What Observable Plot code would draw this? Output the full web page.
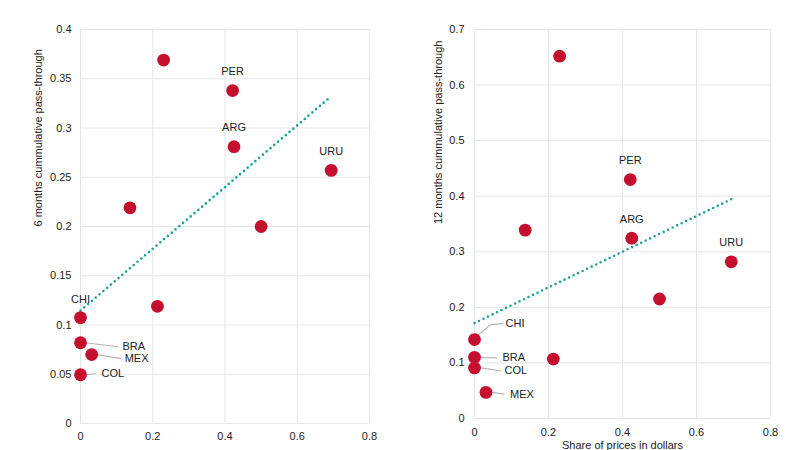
<!DOCTYPE html>
<html>
<head>
<meta charset="utf-8">
<script src="https://cdn.jsdelivr.net/npm/d3@7"></script>
<script src="https://cdn.jsdelivr.net/npm/@observablehq/plot@0.6"></script>
<style>
  html, body { margin: 0; padding: 0; background: #fff; }
  #wrap { position: relative; width: 800px; height: 450px; overflow: hidden; background: #fff; }
  #left, #right { position: absolute; top: 0; }
  #left { left: 0; }
  #right { left: 400px; }
</style>
</head>
<body>
<div id="wrap"><div id="left"></div><div id="right"></div></div>
<script>
// ---- data ----
const countries = ["", "PER", "ARG", "URU", "", "", "", "CHI", "BRA", "MEX", "COL"];
const shareDollar = [0.23, 0.421, 0.425, 0.694, 0.137, 0.50, 0.213, 0, 0, 0.031, 0];
const passThrough6m = [0.369, 0.338, 0.281, 0.257, 0.219, 0.200, 0.119, 0.1075, 0.082, 0.070, 0.0495];
const passThrough12m = [0.652, 0.430, 0.3245, 0.282, 0.339, 0.215, 0.107, 0.142, 0.110, 0.047, 0.091];

const xTicks = [0, 0.2, 0.4, 0.6, 0.8];
const yTicks6 = [0, 0.05, 0.1, 0.15, 0.2, 0.25, 0.3, 0.35, 0.4];
const yTicks12 = [0, 0.1, 0.2, 0.3, 0.4, 0.5, 0.6, 0.7];

const yTitle6 = "6 months cummulative pass-through";
const yTitle12 = "12 months cummulative pass-through";
const xTitle = "Share of prices in dollars";

// ---- annotation layout (pixel offsets from each point) ----
const aboveLabels = ["PER", "ARG", "URU"];
const leftNotes = [
  {name: "CHI", tx: 0, ty: -18, anchor: "middle", leader: null},
  {name: "BRA", tx: 42, ty: 4, anchor: "start", leader: [[5, 0], [37, 4]]},
  {name: "MEX", tx: 33, ty: 4, anchor: "start", leader: [[6, 0], [29, 4]]},
  {name: "COL", tx: 21, ty: -1, anchor: "start", leader: [[6, 0], [15, -1]]}
];
const rightNotes = [
  {name: "CHI", tx: 31, ty: -16, anchor: "start", leader: [[3, -4], [16, -15], [28, -16]]},
  {name: "BRA", tx: 28, ty: 0.5, anchor: "start", leader: [[6, 0], [22, 0.5]]},
  {name: "COL", tx: 30, ty: 2.5, anchor: "start", leader: [[6, 0], [26, 2.8]]},
  {name: "MEX", tx: 24, ty: 2.3, anchor: "start", leader: [[6, 0], [18, 1.7]]}
];

const RED = "#c4102e";
const TEAL = "#1ea394";
const GRID = "#e6e6e6";
const TEXT = "#222";

function makePanel(values, yMax, yTicks, yTitle, notes, m, tickPadX, tickPadY, showXTitle) {
  const W = 400, H = 450;
  const plotW = W - m.left - m.right, plotH = H - m.top - m.bottom;
  const kx = 0.8 / plotW, ky = yMax / plotH;
  const data = countries.map((c, i) => ({name: c, share: shareDollar[i], value: values[i]}));
  const byName = n => data.filter(d => d.name === n);

  const leaderRows = [];
  notes.forEach(n => {
    if (!n.leader) return;
    const d = byName(n.name)[0];
    n.leader.forEach(([px, py]) => leaderRows.push({name: n.name, x: d.share + px * kx, y: d.value - py * ky}));
  });

  const marks = [
    Plot.ruleY(yTicks, {stroke: GRID, strokeWidth: 1}),
    Plot.ruleX(xTicks, {stroke: GRID, strokeWidth: 1}),
    Plot.linearRegressionY(data, {x: "share", y: "value", ci: 0, stroke: TEAL, strokeWidth: 2.6,
      strokeDasharray: "0 5", strokeLinecap: "round"}),
    Plot.line(leaderRows, {x: "x", y: "y", z: "name", stroke: "#b5b5b5", strokeWidth: 1.2, curve: "linear"}),
    Plot.dot(data, {x: "share", y: "value", r: 6.4, fill: RED, stroke: "none"}),
    Plot.text(data.filter(d => aboveLabels.includes(d.name)), {x: "share", y: "value", text: "name", dy: -19,
      fill: TEXT, fontSize: 11}),
    ...notes.map(n => Plot.text(byName(n.name), {x: "share", y: "value", text: "name", dx: n.tx, dy: n.ty,
      textAnchor: n.anchor, fill: TEXT, fontSize: 11})),
    Plot.text([yTitle], {frameAnchor: "left", dx: -(m.left - 38), rotate: -90, text: d => d, fill: TEXT, fontSize: 11})
  ];
  if (showXTitle) {
    marks.push(Plot.text([xTitle], {frameAnchor: "bottom", dy: 30, text: d => d, fill: TEXT, fontSize: 11}));
  }

  return Plot.plot({
    width: W, height: H,
    marginLeft: m.left, marginRight: m.right, marginTop: m.top, marginBottom: m.bottom,
    style: {fontFamily: "'Liberation Sans', Arial, sans-serif", fontSize: "11px", color: TEXT, background: "#fff", overflow: "hidden"},
    x: {domain: [0, 0.8], ticks: xTicks, tickSize: 0, tickPadding: tickPadX, label: null,
      tickFormat: d => String(+d.toFixed(2))},
    y: {domain: [0, yMax], ticks: yTicks, tickSize: 0, tickPadding: tickPadY, label: null,
      tickFormat: d => String(+d.toFixed(2))},
    marks
  });
}

document.getElementById("left").appendChild(
  makePanel(passThrough6m, 0.4, yTicks6, yTitle6, leftNotes,
    {left: 80, right: 31, top: 29, bottom: 27}, 9, 9, false));
document.getElementById("right").appendChild(
  makePanel(passThrough12m, 0.7, yTicks12, yTitle12, rightNotes,
    {left: 74, right: 30, top: 29, bottom: 32}, 10, 10, true));
</script>
</body>
</html>
